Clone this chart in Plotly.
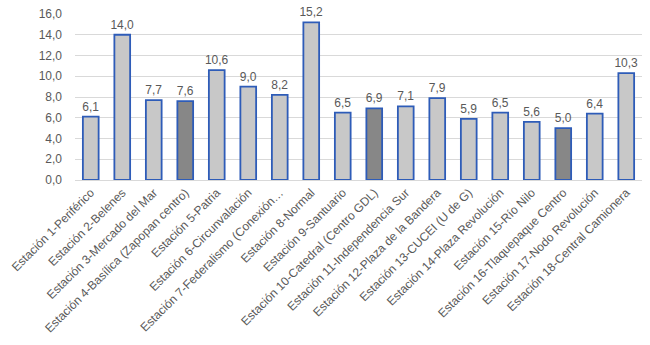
import plotly.graph_objects as go

estaciones = [
    "Estación 1-Periférico",
    "Estación 2-Belenes",
    "Estación 3-Mercado del Mar",
    "Estación 4-Basílica (Zapopan centro)",
    "Estación 5-Patria",
    "Estación 6-Circunvalación",
    "Estación 7-Federalismo (Conexión…",
    "Estación 8-Normal",
    "Estación 9-Santuario",
    "Estación 10-Catedral (Centro GDL)",
    "Estación 11-Independencia Sur",
    "Estación 12-Plaza de la Bandera",
    "Estación 13-CUCEI (U de G)",
    "Estación 14-Plaza Revolución",
    "Estación 15-Río Nilo",
    "Estación 16-Tlaquepaque Centro",
    "Estación 17-Nodo Revolución",
    "Estación 18-Central Camionera",
]
valores = [6.1, 14.0, 7.7, 7.6, 10.6, 9.0, 8.2, 15.2, 6.5, 6.9, 7.1, 7.9, 5.9, 6.5, 5.6, 5.0, 6.4, 10.3]
destacadas = [3, 9, 15]

colores = ["#878787" if i in destacadas else "#C8C8C8" for i in range(len(valores))]

fig = go.Figure(
    go.Bar(
        x=estaciones,
        y=valores,
        marker=dict(color=colores, line=dict(color="#2E5CB8", width=1.8)),
        width=0.5,
        texttemplate="%{y:.1f}",
        textposition="outside",
        constraintext="none",
        cliponaxis=False,
        textfont=dict(size=12, color="#595959"),
        hoverinfo="skip",
    )
)

fig.update_layout(
    width=650,
    height=345,
    margin=dict(l=75, r=8, t=14, b=165),
    paper_bgcolor="white",
    plot_bgcolor="white",
    separators=",.",
    font=dict(family="Liberation Sans, Arial, sans-serif", color="#595959"),
    showlegend=False,
    xaxis=dict(
        tickangle=-45,
        tickfont=dict(size=12, color="#595959"),
        showline=True,
        linecolor="#D9D9D9",
        linewidth=1,
        ticks="",
        automargin=False,
    ),
    yaxis=dict(
        range=[0, 16],
        dtick=2,
        tickformat=".1f",
        tickfont=dict(size=12, color="#595959"),
        ticklabelstandoff=12,
        showgrid=True,
        gridcolor="#D9D9D9",
        gridwidth=1,
        zeroline=False,
        ticks="",
        automargin=False,
    ),
)

fig.write_html(
    "out.html",
    config={"displayModeBar": False, "staticPlot": True},
    post_script="document.body.style.margin='0';document.body.style.overflow='hidden';",
)
